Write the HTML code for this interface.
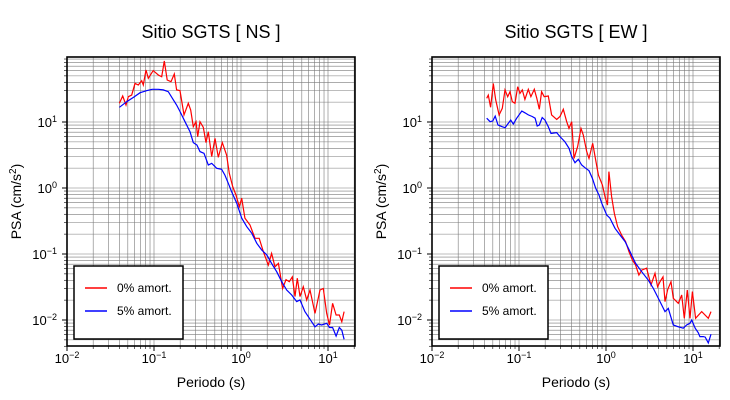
<!DOCTYPE html>
<html><head><meta charset="utf-8"><style>
body{margin:0;background:#fff;}
svg{display:block;font-family:"Liberation Sans",Arial,sans-serif;}
</style></head><body>
<svg id="fig" width="730" height="400" viewBox="0 0 730 400"></svg>
<script>
// ---- NS chart data ----
const nsRedT=[0.040,0.0437,0.0477,0.0507,0.0554,0.0605,0.066,0.0722,0.0754,0.081,0.086,0.098,0.112,0.1225,0.1315,0.142,0.157,0.171,0.182,0.199,0.221,0.248,0.264,0.283,0.304,0.318,0.338,0.369,0.396,0.421,0.46,0.502,0.548,0.61,0.684,0.734,0.802,0.875,0.957,1.02,1.11,1.27,1.45,1.62,1.81,2.06,2.25,2.46,2.69,3.01,3.29,3.59,3.89,4.18,4.44,4.76,5.2,5.69,6.21,7.08,8.09,8.83,9.66,10.4,11.3,12.4,13.5,14.4,15.3];
const nsRedV=[19.2,24.8,18.1,24.2,25.6,38.5,36.4,42.3,36.4,61.4,45.9,60,51.5,48.6,84,43.3,40.8,53.4,30.6,29.9,12.8,19.2,15.2,8.5,10.1,6.0,10.1,8.3,4.87,7.14,2.99,5.66,2.92,4.87,3.16,1.67,1.05,0.78,0.52,0.70,0.35,0.275,0.173,0.173,0.108,0.068,0.102,0.064,0.072,0.030,0.041,0.038,0.045,0.0226,0.043,0.0226,0.032,0.0201,0.0285,0.0126,0.0285,0.030,0.0126,0.0084,0.0179,0.0119,0.0119,0.0094,0.0134];
const nsBlueT=[0.040,0.0486,0.058,0.0693,0.083,0.095,0.112,0.128,0.146,0.167,0.182,0.199,0.227,0.259,0.283,0.311,0.338,0.376,0.421,0.46,0.525,0.598,0.653,0.714,0.78,0.892,1.02,1.164,1.33,1.52,1.73,1.98,2.25,2.57,2.94,3.35,3.83,4.37,4.76,5.43,5.95,6.5,7.08,7.73,8.45,9.66,10.4,11.3,12.4,13.5,14.4,15.3];
const nsBlueV=[16.7,20.3,23.6,27.8,29.9,31.3,31.3,30.6,28.8,21.6,18.1,14.4,10.1,7.14,4.87,4.49,3.56,3.35,2.23,2.37,1.99,1.92,1.57,1.18,0.88,0.59,0.35,0.26,0.206,0.145,0.115,0.097,0.072,0.054,0.038,0.0285,0.0239,0.019,0.0201,0.0134,0.0112,0.0094,0.0079,0.0087,0.0084,0.0089,0.0077,0.0077,0.0057,0.0077,0.0070,0.0051];
// ---- EW chart data ----
const ewRedT=[0.0425,0.0444,0.0472,0.0507,0.054,0.059,0.0643,0.069,0.0741,0.0788,0.0838,0.09,0.0966,0.1026,0.109,0.117,0.128,0.137,0.15,0.16,0.171,0.182,0.195,0.217,0.237,0.271,0.296,0.323,0.353,0.376,0.403,0.429,0.472,0.516,0.548,0.6,0.638,0.703,0.761,0.817,0.908,0.975,1.04,1.08,1.16,1.25,1.36,1.51,1.68,1.84,2.01,2.19,2.39,2.57,2.93,3.29,3.66,3.92,4.18,4.52,4.76,5.12,5.59,5.94,6.78,7.41,7.95,8.6,9.24,9.83,10.7,12.6,15,16.1];
const ewRedV=[22.9,25.6,16.7,38.5,21.6,12.8,16.1,30.6,24.2,28.8,20.3,19.2,34.3,27.2,30.6,22.0,31.3,24.2,31.3,22.9,15.6,28.8,24.2,24.8,12.8,10.9,12.1,15.6,10.1,8.0,10.1,2.81,4.23,8.0,6.35,3.56,2.81,4.75,2.65,1.57,1.11,0.74,0.55,1.77,0.74,0.41,0.26,0.194,0.154,0.108,0.081,0.068,0.048,0.057,0.061,0.034,0.051,0.032,0.038,0.045,0.019,0.029,0.038,0.0213,0.0179,0.0239,0.0106,0.0285,0.0106,0.0269,0.0106,0.0134,0.0106,0.0134];
const ewBlueT=[0.0425,0.0465,0.05,0.0533,0.0573,0.064,0.0693,0.0741,0.0802,0.086,0.094,0.1076,0.117,0.128,0.142,0.153,0.162,0.171,0.185,0.199,0.217,0.233,0.271,0.296,0.338,0.376,0.403,0.44,0.481,0.525,0.584,0.638,0.698,0.761,0.831,0.892,1.02,1.11,1.27,1.45,1.66,1.89,2.19,2.57,3.07,3.51,4.18,4.76,5.2,5.94,6.78,7.73,8.45,9.24,9.66,10.6,11.5,12.0,13.1,13.8,15,16.1];
const ewBlueV=[11.4,10.1,10.4,12.3,9.0,8.5,8.2,9.3,10.7,9.3,11.4,14.7,13.8,12.8,12.1,11.4,8.7,9.0,11.7,10.7,8.5,6.7,6.9,6.0,5.0,4.0,2.99,2.42,2.72,2.23,1.99,1.83,1.40,0.99,0.78,0.59,0.39,0.35,0.245,0.194,0.154,0.108,0.072,0.054,0.040,0.030,0.019,0.0134,0.015,0.0084,0.0079,0.0075,0.0084,0.0089,0.010,0.0075,0.0064,0.0056,0.0056,0.0055,0.0045,0.0061];
const xTickExps=[-2,-1,0,1];
const yTickExps=[-2,-1,0,1];
const titles=["Sitio SGTS [ NS ]","Sitio SGTS [ EW ]"];
const legendLabels=["0% amort.","5% amort."];

const NS="http://www.w3.org/2000/svg";
const svg=document.getElementById('fig');
function mk(tag,attrs,parent){const e=document.createElementNS(NS,tag);for(const k in attrs)e.setAttribute(k,attrs[k]);(parent||svg).appendChild(e);return e;}

function drawChart(idx,left,redT,redV,blueT,blueV){
  const L=left,R=left+288,T=57,B=346,dec=87,ydec=66;
  const xMinLog=-2;
  const xs=t=>L+(Math.log10(t)-xMinLog)*dec;
  const ys=v=>122-(Math.log10(v)-1)*ydec;
  const g=mk('g',{});
  
  
  const grid=mk('g',{stroke:'#7a7a7a','stroke-width':'0.6'},g);
  
  
  for(let e=-2;e<=1;e++)for(let m=1;m<=9;m++){
    const x=xs(m*Math.pow(10,e));
    if(x>L+0.5&&x<R-0.5){mk('line',{x1:x,y1:T,x2:x,y2:B},grid);}
    if(x>=L-0.5&&x<=R+0.5){mk('line',{x1:x,y1:B,x2:x,y2:B+(m===1?5:3),stroke:'#000','stroke-width':m===1?1:0.6},g);}
  }
  for(let e=-3;e<=1;e++)for(let m=1;m<=9;m++){
    const y=ys(m*Math.pow(10,e));
    if(y>T+0.5&&y<B-0.5){mk('line',{x1:L,y1:y,x2:R,y2:y},grid);}
    if(y>=T-0.5&&y<=B+0.5){mk('line',{x1:L,y1:y,x2:L-(m===1?5:3),y2:y,stroke:'#000','stroke-width':m===1?1:0.6},g);}
  }
  const line=(tArr,vArr,col,name)=>{
    const p=mk('polyline',{points:tArr.map((t,i)=>xs(t).toFixed(1)+','+ys(vArr[i]).toFixed(1)).join(' '),fill:'none',stroke:col,'stroke-width':'1.2'},g);
    
    
  };
  line(redT,redV,'#ff0000','series-0pct');
  line(blueT,blueV,'#0000ff','series-5pct');
  const f=mk('rect',{x:L,y:T,width:R-L,height:B-T,fill:'none',stroke:'#000','stroke-width':'1.6'},g);
  
  
  xTickExps.forEach(e=>{
    const t=mk('text',{x:xs(Math.pow(10,e)),y:363,'text-anchor':'middle','font-size':'13'},g);
    
    
    t.textContent='10';
    mk('tspan',{dy:'-5','font-size':'9'},t).textContent=(e<0?'\u2212'+(-e):String(e));
  });
  yTickExps.forEach(e=>{
    const t=mk('text',{x:L-10,y:ys(Math.pow(10,e))+5,'text-anchor':'end','font-size':'13'},g);
    
    
    t.textContent='10';
    mk('tspan',{dy:'-5','font-size':'9'},t).textContent=(e<0?'\u2212'+(-e):String(e));
  });
  const tt=mk('text',{x:(L+R)/2,y:38,'text-anchor':'middle','font-size':'18'},g);
  
  
  tt.textContent=titles[idx];
  const xl=mk('text',{x:(L+R)/2,y:387,'text-anchor':'middle','font-size':'14'},g);
  
  
  xl.textContent='Periodo (s)';
  const yl=mk('text',{x:0,y:0,'text-anchor':'middle','font-size':'14',transform:`translate(${L-46},${(T+B)/2}) rotate(-90)`},g);
  
  
  yl.textContent='PSA (cm/s';
  mk('tspan',{dy:'-5','font-size':'10'},yl).textContent='2';
  mk('tspan',{dy:'5'},yl).textContent=')';
  const lg=mk('g',{},g);
  
  
  mk('rect',{x:L+7,y:266,width:109,height:73,fill:'#fff',stroke:'#000','stroke-width':'1.5'},lg);
  [['#ff0000',288],['#0000ff',311]].forEach((c,i)=>{
    const en=mk('g',{},lg);
    
    
    mk('line',{x1:L+18,y1:c[1],x2:L+40,y2:c[1],stroke:c[0],'stroke-width':'1.6'},en);
    const t=mk('text',{x:L+50,y:c[1]+4,'font-size':'12'},en);
    t.textContent=legendLabels[i];
  });
}
drawChart(0,67,nsRedT,nsRedV,nsBlueT,nsBlueV);
drawChart(1,432,ewRedT,ewRedV,ewBlueT,ewBlueV);
</script>
</body></html>
